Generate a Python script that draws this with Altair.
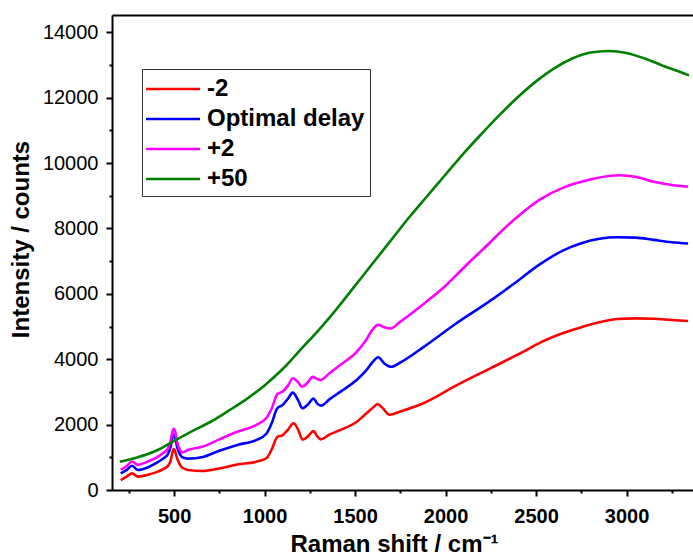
import altair as alt
import pandas as pd

series_names = ["-2", "Optimal delay", "+2", "+50"]
series_colors = ["#FF0000", "#0000FF", "#FF00FF", "#008000"]

red_x = [205, 235, 268, 300, 350, 400, 440, 465, 480, 490, 498, 506, 516, 530, 545, 580, 650, 750, 850, 950,
         1010, 1040, 1070, 1100, 1130, 1160, 1185, 1210, 1240, 1270, 1290, 1310, 1360, 1420, 1510,
         1560, 1595, 1625, 1650, 1690, 1750, 1880, 2060, 2250, 2430, 2520, 2650, 2750, 2950, 3050,
         3150, 3250, 3340]
red_y = [300, 400, 510, 410, 460, 540, 640, 730, 880, 1120, 1250, 1180, 980, 800, 680, 610, 580, 660, 780, 860,
         970, 1250, 1620, 1680, 1850, 2040, 1850, 1540, 1640, 1800, 1650, 1550, 1700, 1840, 2090,
         2330, 2500, 2630, 2520, 2300, 2400, 2660, 3200, 3730, 4230, 4500, 4800, 4980, 5230, 5250,
         5240, 5200, 5170]

blue_x = [205, 235, 268, 300, 350, 400, 440, 465, 480, 490, 498, 506, 516, 530, 545, 580, 660, 750, 850, 950,
          1010, 1040, 1070, 1100, 1130, 1156, 1185, 1210, 1240, 1270, 1290, 1312, 1360, 1420, 1510,
          1560, 1595, 1628, 1660, 1700, 1750, 1880, 2060, 2250, 2375, 2520, 2650, 2750, 2950, 3050,
          3150, 3250, 3340]
blue_y = [510, 600, 740, 610, 680, 820, 960, 1090, 1300, 1580, 1700, 1620, 1330, 1120, 1000, 960, 1010, 1200, 1380,
          1520, 1720, 2050, 2500, 2600, 2800, 2980, 2750, 2500, 2620, 2800, 2650, 2580, 2780, 3010,
          3370, 3650, 3900, 4060, 3880, 3770, 3900, 4380, 5100, 5800, 6300, 6900, 7330, 7550, 7730,
          7720, 7650, 7580, 7540]

mag_x = [205, 235, 268, 300, 350, 400, 440, 465, 480, 490, 498, 506, 516, 530, 545, 580, 660, 750, 850, 950,
         1010, 1040, 1070, 1100, 1130, 1156, 1185, 1206, 1240, 1265, 1290, 1308, 1360, 1420, 1510,
         1560, 1595, 1628, 1660, 1695, 1750, 1880, 2000, 2100, 2200, 2375, 2520, 2650, 2750, 2960,
         3050, 3150, 3250, 3340]
mag_y = [620, 720, 870, 770, 860, 980, 1130, 1260, 1480, 1760, 1870, 1790, 1480, 1250, 1150, 1230, 1330, 1550,
         1780, 1980, 2200, 2500, 2930, 3010, 3200, 3420, 3300, 3160, 3300, 3460, 3400, 3360, 3580,
         3830, 4230, 4580, 4900, 5050, 4980, 4940, 5150, 5700, 6250, 6800, 7330, 8250, 8880, 9250,
         9430, 9630, 9580, 9430, 9330, 9280]

green_x = [200, 300, 400, 500, 600, 700, 800, 900, 1000, 1100, 1200, 1300, 1400, 1500, 1600, 1700,
           1800, 1900, 2000, 2100, 2200, 2300, 2400, 2500, 2600, 2700, 2800, 2900, 3000, 3100, 3200,
           3300, 3345]
green_y = [865, 1000, 1200, 1500, 1800, 2080, 2420, 2780, 3200, 3700, 4300, 4900, 5550, 6250, 6950,
           7650, 8350, 9000, 9650, 10300, 10900, 11480, 12020, 12500, 12900, 13200, 13380, 13430,
           13370, 13200, 12980, 12780, 12680]

x_tick_values = list(range(250, 3251, 250))
y_tick_values = list(range(0, 14001, 1000))

rows = []
for name, xs, ys in zip(series_names, [red_x, blue_x, mag_x, green_x], [red_y, blue_y, mag_y, green_y]):
    for i, (xv, yv) in enumerate(zip(xs, ys)):
        rows.append({"series": name, "shift": xv, "intensity": yv, "order": i})
df = pd.DataFrame(rows)

FONT = "Liberation Sans"
x_scale = alt.Scale(domain=[157, 3367], nice=False, zero=False)
y_scale = alt.Scale(domain=[0, 14530], nice=False, zero=False)

lines = alt.Chart(df).mark_line(strokeWidth=2.6, interpolate="monotone").encode(
    x=alt.X("shift:Q", scale=x_scale,
            axis=alt.Axis(values=x_tick_values, format="d",
                          labelExpr="datum.value % 500 === 0 ? datum.label : ''",
                          tickSize={"condition": {"test": "datum.value % 500 === 0", "value": 6}, "value": 3},
                          labelFontSize=20, labelFontWeight="bold", labelPadding=10,
                          title="Raman shift / cm\u207b\u00b9", titleFontSize=24, titleFontWeight="bold",
                          titleX=282, titleY=61, titleBaseline="alphabetic", titleAlign="center")),
    y=alt.Y("intensity:Q", scale=y_scale,
            axis=alt.Axis(values=y_tick_values, format="d",
                          labelExpr="datum.value % 2000 === 0 ? datum.label : ''",
                          tickSize={"condition": {"test": "datum.value % 2000 === 0", "value": 6}, "value": 3},
                          labelFontSize=20, labelFontWeight="normal", labelPadding=8,
                          title="Intensity / counts", titleFontSize=24, titleFontWeight="bold",
                          titleX=-84, titleY=224, titleAngle=270, titleBaseline="alphabetic",
                          titleAlign="center")),
    color=alt.Color("series:N", scale=alt.Scale(domain=series_names, range=series_colors),
                    legend=alt.Legend(title=None, orient="none", legendX=30, legendY=54,
                                      symbolType="M-2,0H2", symbolSize=729, symbolStrokeWidth=2.5,
                                      symbolOffset=11,
                                      labelFont=FONT, labelFontSize=24, labelFontWeight="bold",
                                      labelColor="black", labelOffset=19,
                                      strokeColor="#333333", fillColor="white", padding=5,
                                      rowPadding=3)),
    order="order:Q",
)

top_frame = alt.Chart(df).mark_point(opacity=0).encode(
    x=alt.X("shift:Q", scale=x_scale,
            axis=alt.Axis(orient="top", labels=False, ticks=False, title=None))
)

chart = alt.layer(lines, top_frame).resolve_axis(x="independent").properties(
    width=581, height=475,
    autosize=alt.AutoSizeParams(type="none"),
    padding={"left": 112, "top": 15, "right": 0, "bottom": 65},
).configure_view(stroke=None).configure_axis(
    domainColor="black", domainWidth=2, tickColor="black", tickWidth=2,
    labelColor="black", titleColor="black", labelFont=FONT, titleFont=FONT, grid=False,
)

chart.save("out.html", embed_options={"renderer": "svg", "actions": False})
